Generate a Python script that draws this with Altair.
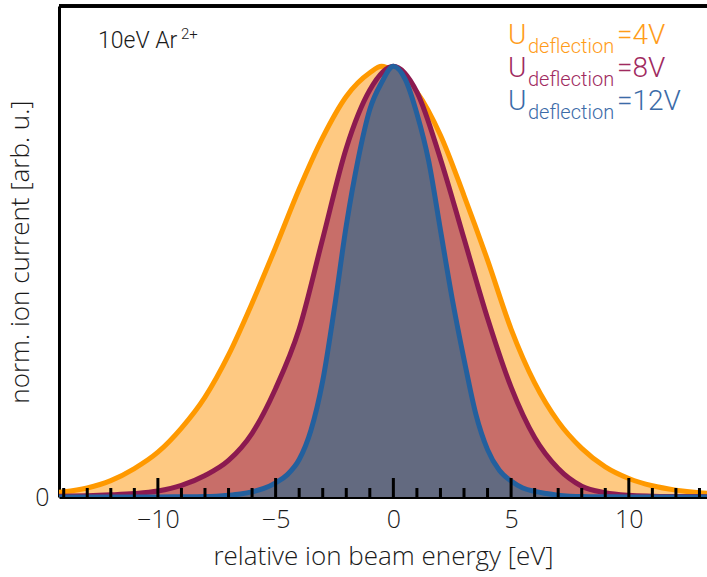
import altair as alt
import pandas as pd

# Normalised ion current vs. relative beam energy for three deflection voltages
orange_x = [-15, -14, -13, -12, -11, -10, -9, -8, -7, -6, -5, -4, -3, -2, -1,
            -0.5, 0, 1, 2, 3, 4, 5, 6, 7, 8, 9, 10, 11, 12, 13, 14]
orange_y = [0.008, 0.012, 0.021, 0.038, 0.066, 0.104, 0.16, 0.232, 0.33, 0.45,
            0.58, 0.715, 0.835, 0.93, 0.985, 1.0, 0.99, 0.94, 0.84, 0.70, 0.55,
            0.39, 0.265, 0.175, 0.113, 0.07, 0.043, 0.026, 0.016, 0.01, 0.007]

purple_x = [-15, -14, -13, -12, -11, -10, -9, -8, -7, -6, -5, -4, -3, -2, -1,
            0, 1, 2, 3, 4, 5, 6, 7, 8, 9, 10, 11, 12, 13, 14]
purple_y = [0.001, 0.002, 0.003, 0.005, 0.008, 0.014, 0.027, 0.05, 0.085, 0.148,
            0.252, 0.39, 0.6, 0.81, 0.945, 1.0, 0.94, 0.785, 0.6, 0.415, 0.255,
            0.138, 0.066, 0.025, 0.01, 0.004, 0.002, 0.001, 0.001, 0.0]

blue_x = [-15, -14, -13, -12, -11, -10, -9, -8, -7.5, -7, -6.5, -6, -5.5, -5,
          -4.5, -4, -3.5, -3, -2.5, -2, -1.5, -1, -0.5, 0, 0.5, 1, 1.5, 2,
          2.5, 3, 3.5, 4, 4.5, 5, 5.5, 6, 6.5, 7, 7.5, 8, 9, 10, 11, 12, 13, 14]
blue_y = [0.0, 0.0, 0.0, 0.0, 0.0, 0.0, 0.0005, 0.001, 0.002, 0.004, 0.007,
          0.012, 0.02, 0.033, 0.052, 0.087, 0.155, 0.27, 0.44, 0.63, 0.783,
          0.9, 0.962, 1.0, 0.97, 0.89, 0.78, 0.62, 0.46, 0.32, 0.193, 0.11,
          0.062, 0.037, 0.021, 0.013, 0.008, 0.004, 0.002, 0.001, 0.0005,
          0.0, 0.0, 0.0, 0.0, 0.0]

series_names = ["4V", "8V", "12V"]
line_colors = ["#ff9900", "#8c1a50", "#23609e"]
fill_colors = ["#fec982", "#c86e69", "#636a80"]
text_colors = ["#ff9c1a", "#a02a60", "#3b6ba8"]

major_ticks = [-10, -5, 0, 5, 10]
minor_ticks = [v for v in range(-14, 14) if v not in major_ticks]

X_DOMAIN = [-14.2, 13.32]
Y_DOMAIN = [0, 1.14]
W, H = 648, 491
FONT = "Roboto"
AXIS_FONT = "Open Sans"
FW = 300
INK = "#1a1a1a"

x_scale = alt.Scale(domain=X_DOMAIN, nice=False, zero=False)
y_scale = alt.Scale(domain=Y_DOMAIN, nice=False)

x_axis = alt.Axis(values=major_ticks, format="d", tickSize=0, labelPadding=10,
                  labelFontSize=25, labelFont=AXIS_FONT, labelFontWeight=FW,
                  labelColor=INK, domainColor="black", domainWidth=3,
                  grid=False, title="relative ion beam energy [eV]",
                  titleFontSize=26, titleFont=AXIS_FONT, titleFontWeight=FW,
                  titleColor=INK, titlePadding=11)
y_axis = alt.Axis(values=[0], tickSize=0, labelPadding=10, labelFontSize=25,
                  labelFont=AXIS_FONT, labelFontWeight=FW, labelColor=INK,
                  domainColor="black", domainWidth=3, grid=False,
                  title="norm. ion current [arb. u.]", titleFontSize=26,
                  titleFont=AXIS_FONT, titleFontWeight=FW, titleColor=INK,
                  titlePadding=1)


def xq(field="energy"):
    return alt.X(f"{field}:Q", scale=x_scale, axis=x_axis)


def yq(field="current"):
    return alt.Y(f"{field}:Q", scale=y_scale, axis=y_axis)


layers = []
for i, (xs, ys) in enumerate([(orange_x, orange_y), (purple_x, purple_y),
                              (blue_x, blue_y)]):
    df = pd.DataFrame({"energy": xs, "current": ys})
    layers.append(alt.Chart(df).mark_area(interpolate="monotone", clip=True,
                                          color=fill_colors[i]).encode(x=xq(), y=yq()))
    layers.append(alt.Chart(df).mark_line(interpolate="monotone", clip=True,
                                          color=line_colors[i], strokeWidth=5,
                                          strokeCap="round").encode(x=xq(), y=yq()))

# Inward-pointing ticks on the energy axis
major_df = pd.DataFrame({"energy": major_ticks})
minor_df = pd.DataFrame({"energy": minor_ticks})
layers.append(alt.Chart(major_df).mark_rule(color="black", strokeWidth=3).encode(
    x=xq(), y=alt.value(H - 19), y2=alt.value(H)))
layers.append(alt.Chart(minor_df).mark_rule(color="black", strokeWidth=3).encode(
    x=xq(), y=alt.value(H - 9), y2=alt.value(H)))

# Top frame line
layers.append(alt.Chart(major_df).mark_rule(color="black", strokeWidth=3).encode(
    x=alt.value(0), x2=alt.value(W), y=alt.value(0)))

# Ion species label with superscript charge
base = alt.Chart(pd.DataFrame({"t": [0]}))
layers.append(base.mark_text(text="10eV Ar", align="left", baseline="alphabetic",
                             fontSize=23, font=FONT, fontWeight=FW,
                             color=INK).encode(x=alt.value(39), y=alt.value(42)))
layers.append(base.mark_text(text="2+", align="left", baseline="alphabetic",
                             fontSize=15, font=FONT, fontWeight=FW,
                             color=INK).encode(x=alt.value(122), y=alt.value(33)))

# Legend: U_deflection=...
for i, name in enumerate(series_names):
    yb = 38 + 33 * i
    layers.append(base.mark_text(text="U", align="left", baseline="alphabetic",
                                 fontSize=28, font=FONT, fontWeight=FW,
                                 color=text_colors[i]).encode(x=alt.value(449), y=alt.value(yb)))
    layers.append(base.mark_text(text="deflection", align="left", baseline="alphabetic",
                                 fontSize=20, font=FONT, fontWeight=FW,
                                 color=text_colors[i]).encode(x=alt.value(469), y=alt.value(yb + 9)))
    layers.append(base.mark_text(text="=" + name, align="left", baseline="alphabetic",
                                 fontSize=28, font=FONT, fontWeight=FW,
                                 color=text_colors[i]).encode(x=alt.value(558), y=alt.value(yb)))

chart = alt.layer(*layers).properties(
    width=W, height=H,
    autosize=alt.AutoSizeParams(type="none"),
    padding={"left": 59, "top": 6, "right": 0, "bottom": 80},
    background="white",
).configure_view(stroke=None)

chart.save("out.html", embed_options={"renderer": "svg", "actions": False})
